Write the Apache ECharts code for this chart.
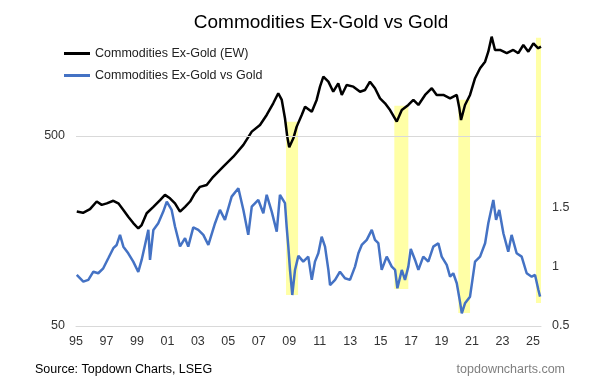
<!DOCTYPE html>
<html><head><meta charset="utf-8">
<script src="https://cdn.jsdelivr.net/npm/echarts@6/dist/echarts.min.js"></script>
<style>html,body{margin:0;padding:0;background:#fff}#c{width:590px;height:391px}</style>
</head><body><div id="c"></div>
<script>
// Commodities Ex-Gold (EW) index, left log axis
const blackYears = [1995.05,1995.46,1995.92,1996.36,1996.69,1997.02,1997.45,1997.78,1998.11,1998.43,1998.76,1999.09,1999.31,1999.64,2000.08,2000.52,2000.84,2001.17,2001.50,2001.83,2002.16,2002.49,2002.81,2003.14,2003.58,2004.01,2004.67,2005.33,2005.99,2006.54,2007.08,2007.52,2007.95,2008.28,2008.51,2008.72,2008.87,2009.00,2009.27,2009.49,2009.82,2010.04,2010.48,2010.80,2011.02,2011.24,2011.57,2011.89,2012.22,2012.45,2012.77,2013.21,2013.65,2013.98,2014.30,2014.63,2014.96,2015.29,2015.62,2016.06,2016.39,2016.82,2017.15,2017.48,2017.92,2018.36,2018.68,2019.12,2019.56,2020.00,2020.17,2020.28,2020.54,2020.87,2021.20,2021.53,2021.86,2022.07,2022.29,2022.51,2022.84,2023.28,2023.71,2024.04,2024.37,2024.70,2025.03,2025.35,2025.53];
const blackValues = [200,197,206,226,217,221,228,221,204,188,174,163,170,196,212,230,245,235,221,200,212,226,250,270,276,305,345,389,449,527,571,645,743,839,774,620,496,436,486,560,645,713,671,774,909,1026,966,855,947,822,928,909,855,873,966,892,789,743,685,595,685,728,774,728,822,892,822,822,789,822,699,607,728,822,1007,1136,1230,1389,1666,1418,1418,1363,1418,1363,1506,1389,1537,1447,1475];
// Commodities Ex-Gold vs Gold ratio, right axis
const ratioYears = [1995.05,1995.48,1995.81,1996.14,1996.46,1996.79,1997.12,1997.45,1997.67,1997.89,1998.11,1998.43,1998.76,1999.09,1999.31,1999.53,1999.75,1999.86,2000.08,2000.40,2000.73,2000.96,2001.28,2001.50,2001.83,2002.16,2002.37,2002.70,2003.03,2003.36,2003.69,2004.13,2004.45,2004.78,2005.22,2005.66,2005.99,2006.31,2006.54,2006.97,2007.30,2007.52,2007.85,2008.18,2008.39,2008.72,2008.83,2008.94,2009.05,2009.20,2009.38,2009.60,2009.92,2010.25,2010.48,2010.69,2010.91,2011.13,2011.35,2011.57,2011.68,2012.01,2012.33,2012.66,2012.99,2013.32,2013.54,2013.76,2014.09,2014.42,2014.63,2014.85,2015.07,2015.40,2015.73,2015.95,2016.10,2016.39,2016.60,2016.82,2016.98,2017.26,2017.48,2017.80,2018.13,2018.46,2018.79,2019.01,2019.34,2019.56,2019.77,2020.00,2020.21,2020.33,2020.54,2020.87,2021.20,2021.53,2021.86,2022.07,2022.40,2022.58,2022.79,2023.06,2023.38,2023.60,2023.93,2024.26,2024.59,2024.92,2025.14,2025.36,2025.47];
const ratioValues = [0.930,0.873,0.888,0.957,0.944,0.986,1.070,1.155,1.182,1.267,1.168,1.112,1.042,0.955,1.056,1.182,1.309,1.056,1.309,1.365,1.463,1.547,1.477,1.337,1.170,1.239,1.168,1.330,1.309,1.267,1.182,1.365,1.477,1.393,1.589,1.660,1.477,1.267,1.505,1.561,1.449,1.604,1.463,1.294,1.604,1.534,1.337,1.168,0.972,0.761,0.972,1.090,1.042,1.084,0.888,1.042,1.112,1.252,1.168,0.972,0.845,0.888,0.957,0.902,0.888,1.000,1.112,1.182,1.225,1.309,1.225,1.197,0.972,1.084,1.000,0.972,0.818,0.972,0.888,1.000,1.148,1.056,0.972,1.084,1.042,1.168,1.197,1.084,1.014,0.915,0.944,0.860,0.705,0.607,0.691,0.747,1.042,1.084,1.197,1.365,1.561,1.393,1.477,1.281,1.126,1.267,1.112,1.084,0.944,0.915,0.930,0.803,0.747];
// Highlighted periods: [start year, end year, low ratio, high ratio]
const bandStarts = [2008.79, 2015.90, 2020.10, 2025.20];
const bandEnds   = [2009.58, 2016.82, 2020.87, 2025.53];
const bandLows   = [0.761, 0.812, 0.610, 0.694];
const bandHighs  = [2.219, 2.353, 2.404, 2.926];
const leftTickLabels = [50, 500];
const rightTickLabels = [0.5, 1, 1.5];
const leftMin = 50, leftMax = 1828;
const xStart = 1995, xEnd = 2025.53;

const FONT = 'Liberation Sans, Arial, sans-serif';
const chart = echarts.init(document.getElementById('c'), null, {renderer: 'canvas'});
// log10 scale relative to the axis minimum (decades above 50)
const L = v => Math.log10(v / leftMin);

chart.setOption({
  animation: false,
  backgroundColor: '#fff',
  textStyle: {fontFamily: FONT},
  title: {
    text: 'Commodities Ex-Gold vs Gold',
    left: 316, top: 8, textAlign: 'center',
    textStyle: {fontFamily: FONT, fontSize: 19, fontWeight: 'normal', color: '#000'}
  },
  legend: {
    orient: 'vertical', left: 59, top: 42, itemGap: 9,
    itemWidth: 26, itemHeight: 3, icon: 'rect',
    data: ['Commodities Ex-Gold (EW)', 'Commodities Ex-Gold vs Gold'],
    textStyle: {fontFamily: FONT, fontSize: 12.5, color: '#222'}
  },
  grid: {left: 76, right: 49, top: 29, bottom: 65, containLabel: false},
  xAxis: {
    type: 'value', min: xStart, max: xEnd, interval: 2,
    axisLine: {show: true, lineStyle: {color: '#d9d9d9', width: 1}},
    axisTick: {show: false}, splitLine: {show: false},
    axisLabel: {
      showMaxLabel: false, margin: 9,
      fontFamily: FONT, fontSize: 12.5, color: '#333',
      formatter: v => Math.abs(v - Math.round(v)) < 1e-6 ? String(Math.round(v) % 100).padStart(2, '0') : ''
    }
  },
  yAxis: [{
    type: 'value', min: 0, max: L(leftMax), interval: 1,
    axisLine: {show: false}, axisTick: {show: false}, splitLine: {show: false},
    axisLabel: {
      showMaxLabel: false, margin: 11, fontFamily: FONT, fontSize: 12.5, color: '#333',
      formatter: v => { const r = Math.round(leftMin * Math.pow(10, v)); return leftTickLabels.includes(r) ? String(r) : ''; }
    }
  }, {
    type: 'value', position: 'right', min: 0.5, max: 3.0, interval: 0.5,
    axisLine: {show: false}, axisTick: {show: false}, splitLine: {show: false},
    axisLabel: {
      margin: 11, fontFamily: FONT, fontSize: 12.5, color: '#333',
      formatter: v => rightTickLabels.some(t => Math.abs(t - v) < 1e-6) ? String(v) : ''
    }
  }],
  series: [{
    name: 'grid500', type: 'line', data: [], yAxisIndex: 0, z: 1, silent: true,
    markLine: {
      silent: true, symbol: ['none', 'none'], label: {show: false},
      lineStyle: {color: '#d9d9d9', width: 1, type: 'solid'},
      data: [{yAxis: L(500)}]
    }
  }, {
    name: 'Commodities Ex-Gold (EW)', type: 'line', yAxisIndex: 0, z: 3,
    showSymbol: false, symbol: 'none', color: '#000',
    lineStyle: {color: '#000', width: 2.5},
    data: blackYears.map((y, i) => [y, L(blackValues[i])])
  }, {
    name: 'Commodities Ex-Gold vs Gold', type: 'line', yAxisIndex: 1, z: 2,
    showSymbol: false, symbol: 'none', color: '#4472C4',
    lineStyle: {color: '#4472C4', width: 2.5},
    data: ratioYears.map((y, i) => [y, ratioValues[i]])
  }, {
    name: 'bands', type: 'line', yAxisIndex: 1, data: [], z: 10, silent: true,
    markArea: {
      silent: true,
      itemStyle: {color: 'rgba(255,255,0,0.35)'},
      data: bandStarts.map((s, i) => [{xAxis: s, yAxis: bandHighs[i]}, {xAxis: bandEnds[i], yAxis: bandLows[i]}])
    }
  }],
  graphic: [{
    type: 'text', left: 35, top: 363,
    style: {text: 'Source: Topdown Charts, LSEG', font: '12.5px ' + FONT, fill: '#000'}
  }, {
    type: 'text', right: 25, top: 363,
    style: {text: 'topdowncharts.com', font: '12.5px ' + FONT, fill: '#7f7f7f'}
  }]
});
</script></body></html>
